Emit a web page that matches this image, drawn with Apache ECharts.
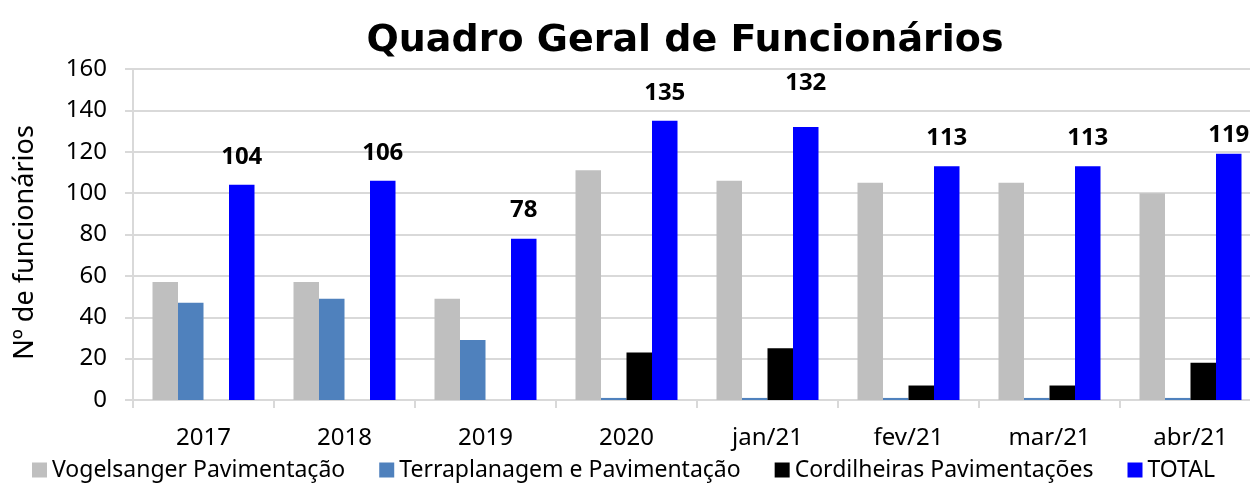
<!DOCTYPE html>
<html>
<head>
<meta charset="utf-8">
<script src="https://cdn.jsdelivr.net/npm/echarts@6/dist/echarts.min.js"></script>
<style>
  html, body { margin: 0; padding: 0; background: #fff; }
  #chart { width: 1250px; height: 483px; }
</style>
</head>
<body>
<div id="chart"></div>
<script>
var categories = ['2017', '2018', '2019', '2020', 'jan/21', 'fev/21', 'mar/21', 'abr/21'];
var vogelsanger = [57, 57, 49, 111, 106, 105, 105, 100];
var terraplanagem = [47, 49, 29, 1, 1, 1, 1, 1];
var cordilheiras = [0, 0, 0, 23, 25, 7, 7, 18];
var total = [104, 106, 78, 135, 132, 113, 113, 119];
var yTicks = { min: 0, max: 160, step: 20 };

// label offsets above the TOTAL bars (the original puts a few of them higher/lower)
var totalLabelGap = [16, 16, 16, 16, 32, 16, 16, 7];

var labelFont = 'Noto Sans, DejaVu Sans, sans-serif';

function barSeries(name, data, color) {
  return {
    name: name,
    type: 'bar',
    data: data,
    barWidth: 25.5,
    barGap: '0%',
    itemStyle: { color: color },
    emphasis: { disabled: true }
  };
}

var series = [
  barSeries('Vogelsanger Pavimentação', vogelsanger, '#bfbfbf'),
  barSeries('Terraplanagem e Pavimentação', terraplanagem, '#4f81bd'),
  barSeries('Cordilheiras Pavimentações', cordilheiras, '#000000'),
  barSeries('TOTAL', total.map(function (v, i) {
    return { value: v, label: { distance: totalLabelGap[i] } };
  }), '#0000ff')
];
series[3].label = {
  show: true,
  position: 'top',
  color: '#000',
  fontFamily: labelFont,
  fontWeight: 'bold',
  fontSize: 24
};

var chart = echarts.init(document.getElementById('chart'));
chart.setOption({
  animation: false,
  title: {
    text: 'Quadro Geral de Funcionários',
    left: 680,
    textAlign: 'center',
    top: 17,
    textStyle: {
      fontFamily: 'DejaVu Sans, sans-serif',
      fontWeight: 'bold',
      fontSize: 38,
      color: '#000'
    }
  },
  legend: {
    left: 32,
    top: 458,
    padding: 0,
    itemWidth: 15,
    itemHeight: 15,
    itemGap: 34,
    icon: 'rect',
    textStyle: { fontFamily: labelFont, fontSize: 23, color: '#000', lineHeight: 24 }
  },
  grid: { left: 133, width: 1128, top: 69, bottom: 83, outerBoundsMode: 'none' },
  xAxis: {
    type: 'category',
    data: categories,
    axisLine: { lineStyle: { color: '#d9d9d9', width: 2 } },
    axisTick: { show: true, length: 8, lineStyle: { color: '#d9d9d9', width: 2 } },
    axisLabel: { color: '#000', fontFamily: labelFont, fontSize: 24, margin: 26 }
  },
  yAxis: {
    type: 'value',
    min: yTicks.min,
    max: yTicks.max,
    interval: yTicks.step,
    name: 'Nº de funcionários',
    nameLocation: 'middle',
    nameGap: 94,
    nameTextStyle: { color: '#000', fontFamily: labelFont, fontSize: 27, padding: [0, 16, 0, 0] },
    axisLine: { show: true, lineStyle: { color: '#d9d9d9', width: 2 } },
    axisTick: { show: true, length: 8, lineStyle: { color: '#d9d9d9', width: 2 } },
    splitLine: { lineStyle: { color: '#d9d9d9', width: 2 } },
    axisLabel: { color: '#000', fontFamily: labelFont, fontSize: 24, margin: 26 }
  },
  series: series
});
</script>
</body>
</html>
